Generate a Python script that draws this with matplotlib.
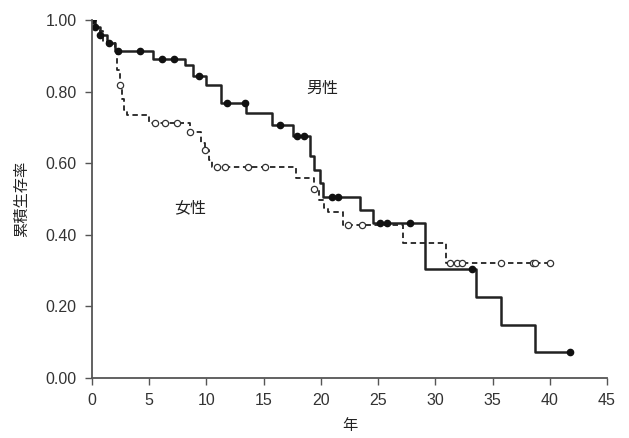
import numpy as np
import matplotlib
matplotlib.use("Agg")
import matplotlib.pyplot as plt

plt.rcParams['font.family'] = ['Liberation Sans', 'Noto Sans CJK JP', 'DejaVu Sans']

# 男性 (solid line, filled markers)
male_t = [0, 0.3, 0.7, 1.3, 2.0, 5.3, 8.1, 8.8, 10.0, 11.3, 13.5, 15.7, 17.6,
          19.1, 19.4, 19.9, 20.2, 23.4, 24.6, 29.1, 33.6, 35.7, 38.7, 41.8]
male_s = [1.0, 0.98, 0.958, 0.936, 0.913, 0.891, 0.874, 0.845, 0.818, 0.768, 0.74, 0.707, 0.676,
          0.62, 0.581, 0.545, 0.506, 0.469, 0.433, 0.304, 0.226, 0.148, 0.073, 0.073]
male_mx = [0, 0.3, 0.7, 1.5, 2.3, 4.2, 6.1, 7.2, 9.4, 11.8, 13.4, 16.4, 17.9, 18.5,
           21.0, 21.5, 25.2, 25.8, 27.8, 33.2, 41.8]
male_my = [1.0, 0.98, 0.958, 0.936, 0.913, 0.913, 0.891, 0.891, 0.845, 0.768, 0.768, 0.707, 0.676, 0.676,
           0.506, 0.506, 0.433, 0.433, 0.433, 0.304, 0.073]

# 女性 (dashed line, open markers)
female_t = [0, 0.4, 1.0, 2.0, 2.2, 2.45, 2.6, 2.85, 3.05, 5.0, 8.6, 9.5, 9.9, 10.2, 10.5,
            17.8, 19.4, 19.8, 20.3, 20.6, 21.9, 27.2, 30.9, 40.0]
female_s = [1.0, 0.97, 0.94, 0.913, 0.86, 0.818, 0.78, 0.75, 0.735, 0.712, 0.687, 0.656, 0.637, 0.61, 0.589,
            0.559, 0.528, 0.497, 0.475, 0.464, 0.427, 0.377, 0.321, 0.321]
female_mx = [2.45, 5.5, 6.4, 7.4, 8.6, 9.9, 10.9, 11.6, 13.6, 15.1, 19.4, 22.4, 23.6,
             31.3, 31.9, 32.3, 35.7, 38.5, 38.7, 40.0]
female_my = [0.818, 0.712, 0.712, 0.712, 0.687, 0.637, 0.589, 0.589, 0.589, 0.589, 0.528, 0.427, 0.427,
             0.321, 0.321, 0.321, 0.321, 0.321, 0.321, 0.321]

fig = plt.figure(figsize=(6.29, 4.38), dpi=100)
ax = fig.add_axes([0.146, 0.137, 0.819, 0.817])

ax.step(female_t, female_s, where='post', color='#222222', lw=1.3, ls=(0, (3, 2)))
ax.plot(female_mx, female_my, 'o', ms=4.5, mfc='white', mec='#333333', mew=0.9)
ax.step(male_t, male_s, where='post', color='#222222', lw=1.8)
ax.plot(male_mx, male_my, 'o', ms=4.5, color='#111111')

ax.text(20.1, 0.81, '男性', fontsize=11.5, ha='center', va='center', color='#222222')
ax.text(8.6, 0.475, '女性', fontsize=11.5, ha='center', va='center', color='#222222')

ax.set_xlim(0, 45)
ax.set_ylim(0, 1.0)
ax.set_xticks(np.arange(0, 46, 5))
ax.set_yticks(np.arange(0, 1.01, 0.2))
ax.yaxis.set_major_formatter(matplotlib.ticker.FormatStrFormatter('%.2f'))
for s in ['top', 'right']:
    ax.spines[s].set_visible(False)
for s in ['left', 'bottom']:
    ax.spines[s].set_color('#555555')
    ax.spines[s].set_linewidth(1.3)
ax.tick_params(colors='#555555', labelcolor='#333333', labelsize=11.5, length=5, width=1, pad=6)
ax.set_xlabel('年', fontsize=11, color='#222222', labelpad=8)
ax.set_ylabel('累積生存率', fontsize=11, color='#222222', labelpad=12)

fig.savefig('out.png', dpi=100)
